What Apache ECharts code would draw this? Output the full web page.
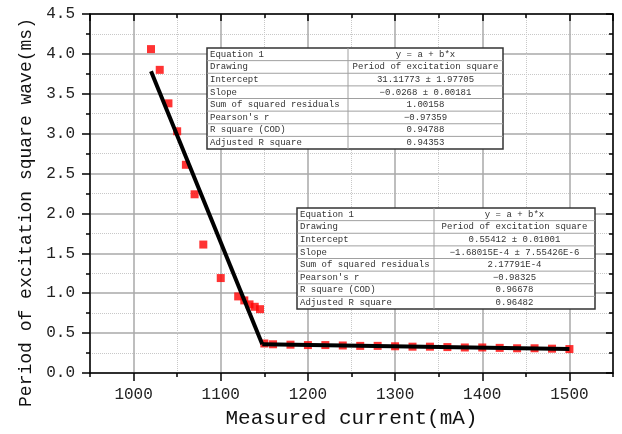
<!DOCTYPE html>
<html>
<head>
<meta charset="utf-8">
<script src="https://cdn.jsdelivr.net/npm/echarts@6/dist/echarts.min.js"></script>
<style>
html, body { margin: 0; padding: 0; background: #fff; }
#chart { width: 622px; height: 434px; }
</style>
</head>
<body>
<div id="chart"></div>
<script>
// steep part of the curve
var current1 = [1020, 1030, 1040, 1050, 1060, 1070, 1080, 1100, 1120, 1127, 1133, 1139, 1145];
var period1 = [4.06, 3.80, 3.38, 3.03, 2.61, 2.24, 1.61, 1.19, 0.96, 0.91, 0.86, 0.83, 0.80];
// flat part
var current2 = [1150, 1160, 1180, 1200, 1220, 1240, 1260, 1280, 1300, 1320, 1340, 1360, 1380, 1400, 1420, 1440, 1460, 1480, 1500];
var period2 = [0.37, 0.36, 0.355, 0.35, 0.35, 0.345, 0.34, 0.34, 0.335, 0.33, 0.33, 0.325, 0.32, 0.32, 0.315, 0.31, 0.31, 0.305, 0.30];
// linear fits y = a + b*x
var fit1 = [31.11773, -0.0268];
var fit2 = [0.55412, -1.68015e-4];

var tableLabels = ['Equation 1', 'Drawing', 'Intercept', 'Slope', 'Sum of squared residuals', "Pearson's r", 'R square (COD)', 'Adjusted R square'];
var table1Values = ['y = a + b*x', 'Period of excitation square', '31.11773 ± 1.97705', '−0.0268 ± 0.00181', '1.00158', '−0.97359', '0.94788', '0.94353'];
var table2Values = ['y = a + b*x', 'Period of excitation square', '0.55412 ± 0.01001', '−1.68015E-4 ± 7.55426E-6', '2.17791E-4', '−0.98325', '0.96678', '0.96482'];

var font = '"Liberation Mono", "DejaVu Sans Mono", monospace';

function pairs(xs, ys) {
    return xs.map(function (x, i) { return [x, ys[i]]; });
}
function fitAt(f, x) { return f[0] + f[1] * x; }

// where the two fitted lines meet
var xMeet = (fit2[0] - fit1[0]) / (fit1[1] - fit2[1]);
var fitLine1 = [[current1[0], fitAt(fit1, current1[0])], [xMeet, fitAt(fit1, xMeet)]];
var fitLine2 = [[xMeet, fitAt(fit2, xMeet)], [current2[current2.length - 1], fitAt(fit2, current2[current2.length - 1])]];

function table(left, top, width, height, split, values) {
    var rowH = height / tableLabels.length;
    var els = [];
    els.push({ type: 'rect', z: 100, shape: { x: left, y: top, width: width, height: height },
        style: { fill: '#fff', stroke: '#333', lineWidth: 1.5 } });
    for (var i = 1; i < tableLabels.length; i++) {
        els.push({ type: 'line', z: 101, shape: { x1: left, y1: top + rowH * i, x2: left + width, y2: top + rowH * i },
            style: { stroke: '#a0a0a0', lineWidth: 1 } });
    }
    els.push({ type: 'line', z: 101, shape: { x1: left + split, y1: top, x2: left + split, y2: top + height },
        style: { stroke: '#a0a0a0', lineWidth: 1 } });
    tableLabels.forEach(function (t, i) {
        els.push({ type: 'text', z: 102, x: left + 3, y: top + rowH * (i + 0.5),
            style: { text: t, font: '9px ' + font, fill: '#333', verticalAlign: 'middle', align: 'left' } });
        els.push({ type: 'text', z: 102, x: left + split + (width - split) / 2, y: top + rowH * (i + 0.5),
            style: { text: values[i], font: '9px ' + font, fill: '#333', verticalAlign: 'middle', align: 'center' } });
    });
    return els;
}

var chart = echarts.init(document.getElementById('chart'));

var axisLineStyle = { color: '#000', width: 1.5 };

var option = {
    animation: false,
    backgroundColor: '#fff',
    grid: { left: 90, right: 9, top: 14, bottom: 61 },
    xAxis: [
        {
            type: 'value', position: 'bottom', min: 950, max: 1550, splitNumber: 6,
            name: 'Measured current(mA)', nameLocation: 'middle', nameGap: 33,
            nameTextStyle: { fontFamily: font, fontSize: 21, color: '#111' },
            axisLine: { show: true, onZero: false, lineStyle: axisLineStyle },
            axisTick: { show: true, inside: false, length: 8, lineStyle: axisLineStyle },
            axisLabel: { showMinLabel: false, showMaxLabel: false, fontFamily: font, fontSize: 16, color: '#222', margin: 14,
                formatter: function (v) { return String(v); } },
            splitLine: { show: true, lineStyle: { color: '#a8a8a8', width: 1.5 } }
        },
        {
            type: 'value', position: 'bottom', min: 950, max: 1550, interval: 100,
            axisLine: { show: false, onZero: false },
            axisTick: { show: true, inside: false, length: 4, lineStyle: axisLineStyle },
            axisLabel: { show: false },
            splitLine: { show: true, lineStyle: { color: '#c8c8c8', type: 'dotted', width: 1 } }
        },
        {
            type: 'value', position: 'top', min: 950, max: 1550, splitNumber: 6,
            axisLine: { show: true, onZero: false, lineStyle: axisLineStyle },
            axisTick: { show: true, inside: true, length: 7, lineStyle: axisLineStyle },
            axisLabel: { show: false },
            splitLine: { show: false }
        },
        {
            type: 'value', position: 'top', min: 950, max: 1550, interval: 100,
            axisLine: { show: false, onZero: false },
            axisTick: { show: true, inside: true, length: 4, lineStyle: axisLineStyle },
            axisLabel: { show: false },
            splitLine: { show: false }
        }
    ],
    yAxis: [
        {
            type: 'value', position: 'left', min: 0, max: 4.5, interval: 0.5,
            name: 'Period of excitation square wave(ms)', nameLocation: 'middle', nameGap: 52,
            nameTextStyle: { fontFamily: font, fontSize: 18, color: '#111', padding: [0, 38, 0, 0] },
            axisLine: { show: true, onZero: false, lineStyle: axisLineStyle },
            axisTick: { show: true, inside: false, length: 8, lineStyle: axisLineStyle },
            minorTick: { show: true, splitNumber: 2, length: 4, lineStyle: axisLineStyle },
            axisLabel: { fontFamily: font, fontSize: 16, color: '#222', margin: 15,
                formatter: function (v) { return v.toFixed(1); } },
            splitLine: { show: true, lineStyle: { color: '#a8a8a8', width: 1.5 } },
            minorSplitLine: { show: true, lineStyle: { color: '#c8c8c8', type: 'dotted', width: 1 } }
        },
        {
            type: 'value', position: 'right', min: 0, max: 4.5, interval: 0.5,
            axisLine: { show: true, onZero: false, lineStyle: axisLineStyle },
            axisTick: { show: true, inside: true, length: 7, lineStyle: axisLineStyle },
            minorTick: { show: true, splitNumber: 2, length: 4, lineStyle: axisLineStyle },
            axisLabel: { show: false },
            splitLine: { show: false }
        }
    ],
    series: [
        { type: 'scatter', data: pairs(current1, period1), symbol: 'rect', symbolSize: 8,
          itemStyle: { color: '#ff0000' }, z: 3 },
        { type: 'scatter', data: pairs(current2, period2), symbol: 'rect', symbolSize: 8,
          itemStyle: { color: '#ff0000' }, z: 3 },
        { type: 'line', data: fitLine1, showSymbol: false, symbol: 'none',
          lineStyle: { color: '#000', width: 4 }, z: 4 },
        { type: 'line', data: fitLine2, showSymbol: false, symbol: 'none',
          lineStyle: { color: '#000', width: 4 }, z: 4 }
    ],
    graphic: table(207, 48, 296, 101, 141, table1Values).concat(table(297, 208, 298, 101, 137, table2Values))
};

chart.setOption(option);
</script>
</body>
</html>
